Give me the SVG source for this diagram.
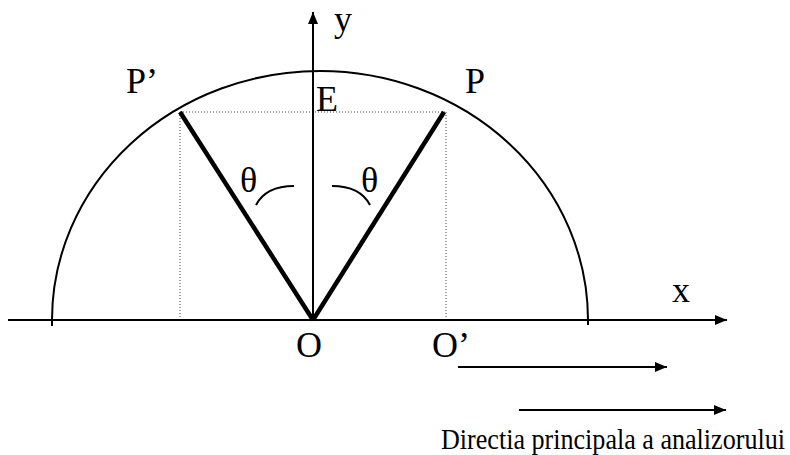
<svg xmlns="http://www.w3.org/2000/svg" width="790" height="455" viewBox="0 0 790 455">
<style>
text{font-family:'Liberation Serif','DejaVu Serif',serif;fill:#000}
.lbl{font-size:36px}
.thin{fill:none;stroke:#000;stroke-width:2}
.dot{fill:none;stroke:#444;stroke-width:1;stroke-dasharray:1 2}
.thick{fill:none;stroke:#000;stroke-width:4.5}
.arc{fill:none;stroke:#000;stroke-width:2}
</style>
<defs>
<marker id="ah" viewBox="0 0 12 10" refX="12" refY="5" markerWidth="12" markerHeight="10" markerUnits="userSpaceOnUse" orient="auto">
<path d="M0,0 L12,5 L0,10 Z" fill="#000"/>
</marker>
</defs>
<rect width="790" height="455" fill="#fff"/>
<g id="connectors">
<path id="semicircle" class="thin" d="M52,326 L52,320 A268,249 0 0 1 588,320 L588,325"/>
<line class="dot" x1="180" y1="112" x2="446" y2="112"/>
<line class="dot" x1="180" y1="112" x2="180" y2="320"/>
<line class="dot" x1="446" y1="112" x2="446" y2="320"/>
<line id="x-axis" class="thin" x1="8" y1="320" x2="727" y2="320" marker-end="url(#ah)"/>
<line id="y-axis" class="thin" x1="313" y1="320" x2="313" y2="12" marker-end="url(#ah)"/>
<line id="OP1" class="thick" x1="313" y1="320" x2="180" y2="112"/>
<line id="OP" class="thick" x1="313" y1="320" x2="444" y2="112"/>
<path class="arc" d="M256,205 Q266,186 294,186"/>
<path class="arc" d="M332,186 Q360,186 370,205"/>
<line id="arrow1" class="thin" x1="458" y1="367" x2="667" y2="367" marker-end="url(#ah)"/>
<line id="arrow2" class="thin" x1="519" y1="410" x2="726" y2="410" marker-end="url(#ah)"/>
</g>
<g id="label-y"><text class="lbl" x="334" y="31">y</text></g>
<g id="label-E"><text class="lbl" x="316" y="111">E</text></g>
<g id="label-P1"><text class="lbl" x="126" y="93">P’</text></g>
<g id="label-P"><text class="lbl" x="465" y="93">P</text></g>
<g id="label-theta1"><text class="lbl" x="240" y="192">θ</text></g>
<g id="label-theta2"><text class="lbl" x="361" y="192">θ</text></g>
<g id="label-x"><text class="lbl" x="672" y="302">x</text></g>
<g id="label-O"><text class="lbl" x="296" y="357">O</text></g>
<g id="label-O1"><text class="lbl" x="432" y="357">O’</text></g>
<g id="caption"><text transform="translate(441,449) scale(1,1.15)" x="0" y="0" font-size="26" textLength="344" lengthAdjust="spacingAndGlyphs">Directia principala a analizorului</text></g>
</svg>
